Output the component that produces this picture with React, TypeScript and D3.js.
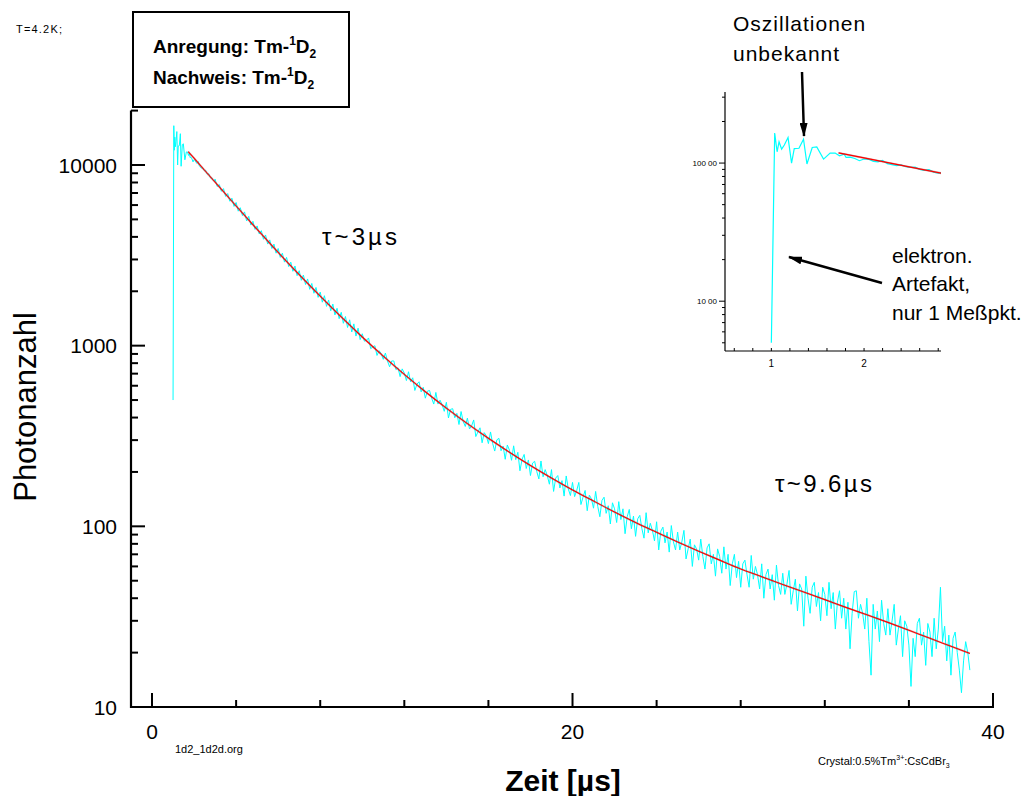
import React from "react";
import * as d3 from "d3";

// ---------- data ----------
// early part of the measured decay (µs, counts), incl. the 1-point electronic artefact at 1.0 µs
const earlyTimes: number[] = [
  1.0, 1.036, 1.062, 1.083, 1.111, 1.14, 1.18, 1.218, 1.247, 1.298, 1.347, 1.384, 1.441, 1.49,
  1.563, 1.634, 1.688, 1.735, 1.785, 1.806, 1.85, 1.9, 1.95, 2.0, 2.05, 2.1, 2.15, 2.2, 2.25,
  2.3, 2.35, 2.4, 2.45, 2.5, 2.55, 2.6, 2.65, 2.7, 2.75, 2.8, 2.85, 2.9, 2.95,
];
const earlyCounts: number[] = [
  500, 16500, 12070, 14260, 12620, 13500, 15310, 10000, 12740, 12800, 14900, 9840, 12970, 13100,
  10690, 11810, 11810, 11290, 11600, 11000, 11050, 10800, 10400, 10700, 10650, 10300, 10200, 10450, 9900,
  9750, 9600, 9700, 9400, 9300, 9350, 9000, 8850, 8950, 8600, 8450, 8500, 8250, 8150,
];

// measured counts from 3.0 µs on, sampled every 0.1 µs
const decayStart = 3.0;
const decayStep = 0.1;
const decayCounts: number[] = [
  8350, 7600, 7800, 7150, 7400, 6700, 6950, 6300, 6550, 5900,
  6200, 5550, 5800, 5250, 5500, 4900, 5200, 4650, 4880, 4400,
  4600, 4150, 4330, 3880, 4100, 3650, 3850, 3450, 3650, 3250,
  3450, 3080, 3250, 2900, 3080, 2740, 2900, 2580, 2760, 2440,
  2600, 2300, 2460, 2180, 2340, 2050, 2210, 1950, 2100, 1850,
  1980, 1740, 1890, 1650, 1790, 1560, 1700, 1480, 1610, 1410,
  1530, 1330, 1450, 1260, 1390, 1190, 1320, 1130, 1250, 1080,
  1164, 1059, 1071, 1103, 963, 982, 999, 883, 938, 903,
  840, 910, 822, 764, 823, 823, 737, 755, 674, 744,
  705, 641, 717, 631, 664, 565, 612, 631, 555, 588,
  512, 560, 565, 512, 475, 551, 475, 499, 470, 433,
  486, 398, 444, 448, 399, 422, 366, 432, 381, 357,
  397, 346, 360, 388, 314, 333, 351, 290, 330, 317,
  287, 333, 288, 261, 301, 307, 262, 278, 235, 282,
  264, 232, 279, 234, 257, 203, 235, 250, 209, 233,
  191, 224, 229, 201, 183, 230, 188, 206, 191, 171,
  206, 156, 185, 191, 163, 179, 147, 190, 161, 148,
  175, 146, 158, 175, 132, 145, 158, 122, 149, 142,
  126, 156, 129, 113, 139, 145, 118, 130, 103, 135,
  125, 105, 137, 109, 125, 91, 113, 124, 97, 114,
  88, 110, 115, 97, 86, 119, 92, 104, 95, 83,
  106, 74, 94, 99, 81, 93, 72, 101, 82, 74,
  93, 74, 82, 95, 66, 75, 85, 60, 79, 75,
  65, 85, 68, 58, 76, 80, 62, 70, 53, 75,
  68, 55, 77, 58, 70, 47, 62, 70, 52, 64,
  46, 62, 65, 54, 46, 69, 51, 60, 54, 45,
  62, 40, 54, 58, 45, 54, 39, 61, 47, 42,
  55, 42, 48, 57, 37, 44, 51, 34, 48, 45,
  28, 53, 40, 33, 46, 49, 36, 43, 30, 46,
  42, 32, 49, 35, 43, 27, 38, 44, 31, 40,
  27, 38, 21, 33, 43.5, 44, 31, 37, 33, 27,
  40, 23, 15, 37, 27, 34, 23, 39, 29, 25,
  35, 25, 30, 37, 22, 27, 32, 19, 30, 28,
  22, 13, 24, 19, 29, 31, 22, 26, 17, 29,
  26, 19, 31, 21, 27, 46, 23, 28, 18, 25,
  15, 24, 26, 20, 16, 12, 18, 23, 20, 16,
];

// bi-exponential fit (red)
const fitTimes: number[] = [
  1.725, 2, 2.5, 3, 4, 5, 6, 7, 8, 9, 10, 11, 12, 13, 14, 15, 16, 17, 18, 19, 20,
  21, 22, 23, 24, 25, 26, 27, 28, 29, 30, 31, 32, 33, 34, 35, 36, 37, 38, 38.9,
];
const fitCounts: number[] = [
  11850, 10900, 9350, 8030, 5930, 4400, 3280, 2470, 1880, 1442, 1117, 875, 693, 556, 451, 370, 307, 257, 217, 185, 159,
  138, 120, 105, 92.7, 82.0, 72.9, 65.0, 58.1, 52.6, 47.6, 43.3, 39.3, 35.6, 32.4, 29.4, 26.6, 24.0, 21.7, 19.8,
];

// axes
const xTickValues: number[] = [0, 4, 8, 12, 16, 20, 24, 28, 32, 36, 40];
const xLabelValues: number[] = [0, 20, 40];
const yLabelValues: number[] = [10, 100, 1000, 10000];
const insetXTicks: number[] = [0.6, 0.8, 1.0, 1.2, 1.4, 1.6, 1.8, 2.0, 2.2, 2.4, 2.6, 2.8];
const insetXLabels: number[] = [1, 2];
const insetYTicks: number[] = [500, 600, 700, 800, 900, 1000, 2000, 3000, 4000, 5000, 6000, 7000, 8000, 9000, 10000, 20000, 30000];
const insetYLabelValues: number[] = [1000, 10000];
const insetYLabelTexts: string[] = ["10 00", "100 00"];

const FONT = "'Liberation Sans', Arial, Helvetica, sans-serif";

export default function App() {
  const data: [number, number][] = [
    ...earlyTimes.map((t, i) => [t, earlyCounts[i]] as [number, number]),
    ...decayCounts.map((v, i) => [decayStart + i * decayStep, v] as [number, number]),
  ];
  const fit: [number, number][] = fitTimes.map((t, i) => [t, fitCounts[i]]);

  // main scales
  const x = d3.scaleLinear().domain([-1, 40]).range([131, 993]);
  const y = d3.scaleLog().domain([10, 20000]).range([707, 110.6]);
  const yTicks = y.ticks();

  // inset scales
  const xi = d3.scaleLinear().domain([0.5, 2.83]).range([725, 941]);
  const yi = d3.scaleLog().domain([436, 32700]).range([351, 92]);

  const lineMain = d3.line<[number, number]>().x((d) => x(d[0])).y((d) => y(d[1]));
  const fitMain = d3
    .line<[number, number]>()
    .x((d) => x(d[0]))
    .y((d) => y(d[1]))
    .curve(d3.curveMonotoneX);
  const lineInset = d3.line<[number, number]>().x((d) => xi(d[0])).y((d) => yi(d[1]));
  const fitInset = d3
    .line<[number, number]>()
    .x((d) => xi(d[0]))
    .y((d) => yi(d[1]))
    .curve(d3.curveMonotoneX);

  const isMajorY = (v: number) => yLabelValues.includes(v);

  return (
    <svg
      width={1036}
      height={796}
      style={{ position: "absolute", left: 0, top: 0, display: "block", background: "#fff" }}
      fontFamily={FONT}
    >
      <defs>
        <clipPath id="insetClip">
          <rect x={725} y={92} width={216} height={259} />
        </clipPath>
        <marker id="arrowHead" viewBox="0 0 14 8" refX={13} refY={4} markerWidth={14} markerHeight={8} markerUnits="userSpaceOnUse" orient="auto">
          <path d="M0,0 L14,4 L0,8 Z" fill="#000" />
        </marker>
      </defs>

      {/* small header text */}
      <text x={16} y={33} fontSize={11} textLength={46} lengthAdjust="spacing">T=4.2K;</text>

      {/* legend box */}
      <rect x={133} y={12} width={216} height={95} fill="#fff" stroke="#000" strokeWidth={2} />
      <text x={153} y={53} fontSize={19} fontWeight="bold">
        Anregung: Tm-<tspan dy={-8} fontSize={12}>1</tspan>
        <tspan dy={8} fontSize={19}>D</tspan>
        <tspan dy={5} fontSize={12}>2</tspan>
      </text>
      <text x={153} y={84} fontSize={19} fontWeight="bold">
        Nachweis: Tm-<tspan dy={-8} fontSize={12}>1</tspan>
        <tspan dy={8} fontSize={19}>D</tspan>
        <tspan dy={5} fontSize={12}>2</tspan>
      </text>

      {/* main data */}
      <path d={lineMain(data) || ""} fill="none" stroke="#00ffff" strokeWidth={1} />
      <path d={fitMain(fit) || ""} fill="none" stroke="#7a5050" strokeWidth={2} opacity={0.35} />
      <path d={fitMain(fit) || ""} fill="none" stroke="#ff0000" strokeWidth={1.1} />

      {/* main y axis */}
      <line x1={131} x2={131} y1={y(20000)} y2={708} stroke="#000" strokeWidth={2.2} />
      {yTicks.map((v, i) => (
        <line key={"yt" + i} x1={131} x2={isMajorY(v) ? 145 : 138} y1={y(v)} y2={y(v)} stroke="#000" strokeWidth={2} />
      ))}
      {yLabelValues.map((v) => (
        <text key={"yl" + v} x={117} y={y(v)} dy="0.36em" textAnchor="end" fontSize={21}>
          {v}
        </text>
      ))}

      {/* main x axis */}
      <line x1={130} x2={994} y1={707} y2={707} stroke="#000" strokeWidth={2.2} />
      {xTickValues.map((v) => (
        <line key={"xt" + v} x1={x(v)} x2={x(v)} y1={707} y2={xLabelValues.includes(v) ? 693 : 700} stroke="#000" strokeWidth={2} />
      ))}
      {xLabelValues.map((v) => (
        <text key={"xl" + v} x={x(v)} y={739} textAnchor="middle" fontSize={21}>
          {v}
        </text>
      ))}

      {/* axis titles */}
      <text transform="translate(36,407) rotate(-90)" textAnchor="middle" fontSize={31}>
        Photonanzahl
      </text>
      <text x={563} y={791} textAnchor="middle" fontSize={30} fontWeight="bold">
        Zeit [µs]
      </text>

      {/* footnotes */}
      <text x={175} y={753} fontSize={11}>1d2_1d2d.org</text>
      <text x={818} y={765} fontSize={11}>
        Crystal:0.5%Tm<tspan dy={-5} fontSize={7}>3+</tspan>
        <tspan dy={5} fontSize={11}>:CsCdBr</tspan>
        <tspan dy={3} fontSize={7}>3</tspan>
      </text>

      {/* lifetime labels */}
      <text x={322} y={245} fontSize={24} textLength={75} lengthAdjust="spacing">τ~3µs</text>
      <text x={775} y={492} fontSize={24} textLength={97} lengthAdjust="spacing">τ~9.6µs</text>

      {/* inset */}
      <g clipPath="url(#insetClip)">
        <path d={lineInset(data) || ""} fill="none" stroke="#00ffff" strokeWidth={1.2} />
        <path d={fitInset(fit) || ""} fill="none" stroke="#7a5050" strokeWidth={2} opacity={0.4} />
        <path d={fitInset(fit) || ""} fill="none" stroke="#ff0000" strokeWidth={1.2} />
      </g>
      <line x1={725} x2={725} y1={92} y2={351} stroke="#000" strokeWidth={1.2} />
      <line x1={725} x2={941} y1={351} y2={351} stroke="#000" strokeWidth={1.2} />
      {insetYTicks.map((v) => (
        <line key={"iyt" + v} x1={insetYLabelValues.includes(v) ? 719 : 722} x2={725} y1={yi(v)} y2={yi(v)} stroke="#000" strokeWidth={1} />
      ))}
      {insetYLabelValues.map((v, i) => (
        <text key={"iyl" + v} x={717} y={yi(v)} dy="0.35em" textAnchor="end" fontSize={8}>
          {insetYLabelTexts[i]}
        </text>
      ))}
      {insetXTicks.map((v) => (
        <line key={"ixt" + v} x1={xi(v)} x2={xi(v)} y1={351} y2={348} stroke="#000" strokeWidth={1} />
      ))}
      {insetXLabels.map((v) => (
        <text key={"ixl" + v} x={xi(v)} y={367} textAnchor="middle" fontSize={10}>
          {v}
        </text>
      ))}

      {/* annotations */}
      <text x={733} y={31} fontSize={21} letterSpacing={1}>Oszillationen</text>
      <text x={733} y={61} fontSize={21} letterSpacing={1}>unbekannt</text>
      <line x1={802} y1={72} x2={804} y2={136} stroke="#000" strokeWidth={2.5} markerEnd="url(#arrowHead)" />

      <text x={892} y={263} fontSize={21}>elektron.</text>
      <text x={892} y={291} fontSize={21}>Artefakt,</text>
      <text x={892} y={320} fontSize={21}>nur 1 Meßpkt.</text>
      <line x1={882} y1={283} x2={789} y2={257} stroke="#000" strokeWidth={2.5} markerEnd="url(#arrowHead)" />
    </svg>
  );
}
